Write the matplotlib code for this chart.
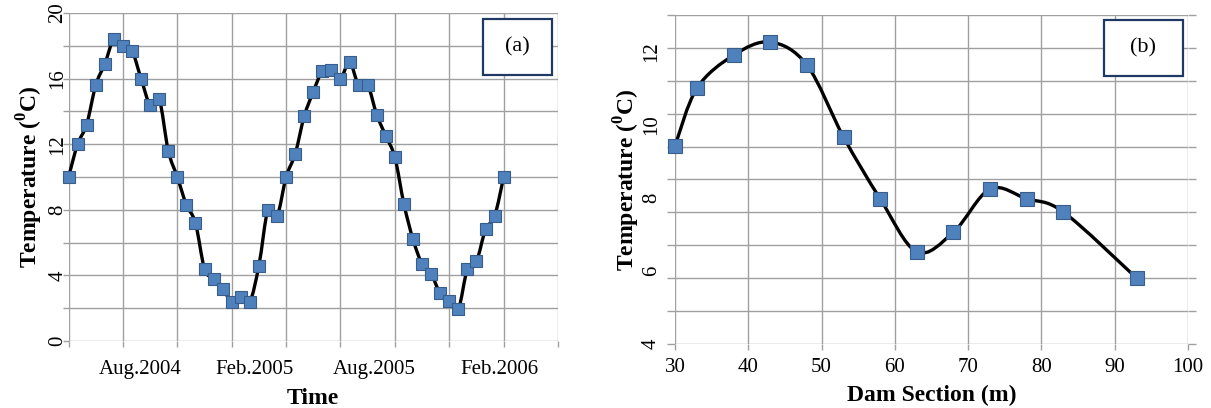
import matplotlib
matplotlib.use("Agg")
import matplotlib.pyplot as plt
import numpy as np
from matplotlib.path import Path
from matplotlib.patches import PathPatch, Rectangle

plt.rcParams["font.family"] = ["Liberation Serif", "DejaVu Serif"]
plt.rcParams["mathtext.fontset"] = "custom"
plt.rcParams["mathtext.rm"] = "Liberation Serif"
plt.rcParams["mathtext.bf"] = "Liberation Serif:bold"

# (a) temperature time series, one value per sample (about two weeks apart)
time_temp = [10.0, 12.0, 13.2, 15.6, 16.9, 18.4, 18.0, 17.7, 16.0, 14.4,
             14.75, 11.6, 10.0, 8.3, 7.2, 4.4, 3.8, 3.2, 2.4, 2.7,
             2.4, 4.6, 8.0, 7.6, 10.0, 11.4, 13.7, 15.2, 16.45, 16.5,
             16.0, 17.0, 15.6, 15.6, 13.8, 12.5, 11.2, 8.35, 6.2, 4.7,
             4.1, 2.9, 2.45, 1.95, 4.4, 4.85, 6.8, 7.6, 10.0]
time_labels = ["Aug.2004", "Feb.2005", "Aug.2005", "Feb.2006"]
time_label_pos = [7.9, 20.5, 33.7, 47.5]

# (b) temperature along the dam section
section_x = [30, 33, 38, 43, 48, 53, 58, 63, 68, 73, 78, 83, 93]
section_temp = [9.42, 11.0, 11.9, 12.26, 11.63, 9.66, 7.97, 6.52, 7.06,
                8.24, 7.97, 7.61, 5.8]

BLUE = "#4F81BD"
EDGE = "#385D8A"
GRID = "#A0A0A0"


def smooth_path(x, y):
    # Catmull-Rom style bezier, like Excel's smoothed line
    x = np.asarray(x, float)
    y = np.asarray(y, float)
    pts = np.column_stack([x, y])
    verts = [pts[0]]
    codes = [Path.MOVETO]
    n = len(pts)
    for i in range(n - 1):
        p0 = pts[i - 1] if i > 0 else pts[i]
        p1 = pts[i]
        p2 = pts[i + 1]
        p3 = pts[i + 2] if i + 2 < n else pts[i + 1]
        c1 = p1 + (p2 - p0) / 6.0
        c2 = p2 - (p3 - p1) / 6.0
        verts += [c1, c2, p2]
        codes += [Path.CURVE4] * 3
    return Path(verts, codes)


fig = plt.figure(figsize=(12.11, 4.08), dpi=100)

# ---- panel (a)
ax1 = fig.add_axes([0.0566, 0.1642, 0.4042, 0.804])
xs = np.arange(len(time_temp))
ax1.add_patch(PathPatch(smooth_path(xs, time_temp), fill=False,
                        edgecolor="black", lw=2.4, zorder=3, clip_on=False))
ax1.plot(xs, time_temp, linestyle="none", marker="s", markersize=8.5,
         markerfacecolor=BLUE, markeredgecolor=EDGE, markeredgewidth=0.8,
         zorder=4, clip_on=False)
ax1.set_xlim(0, 54)
ax1.set_ylim(0, 20)
ax1.set_xticks(np.arange(0, 55, 6), minor=True)
ax1.set_xticks(time_label_pos)
ax1.set_xticklabels(time_labels, fontsize=15)
ax1.tick_params(axis="x", which="major", length=0, pad=14)
ax1.tick_params(axis="x", which="minor", length=4, color=GRID, width=1)
ax1.set_yticks(np.arange(0, 21, 4))
ax1.set_yticks(np.arange(2, 20, 4), minor=True)
ax1.set_yticklabels([str(v) for v in range(0, 21, 4)], fontsize=15,
                    rotation=90, va="center")
ax1.tick_params(axis="y", which="both", length=4, color=GRID, width=1, pad=-3)
ax1.grid(True, which="minor", axis="x", color=GRID, lw=1)
ax1.grid(True, which="both", axis="y", color=GRID, lw=1)
for s in ax1.spines.values():
    s.set_visible(False)
ax1.set_axisbelow(True)
ax1.set_xlabel("Time", fontsize=17, fontweight="bold", labelpad=6)
ax1.set_ylabel(r"Temperature ($^{\mathbf{0}}$C)", fontsize=17,
               fontweight="bold", labelpad=2)
ax1.add_patch(Rectangle((0.847, 0.811), 0.141, 0.171, transform=ax1.transAxes,
                        facecolor="white", edgecolor="#1F3864", lw=1.6,
                        zorder=6))
ax1.text(0.9175, 0.896, "(a)", transform=ax1.transAxes, fontsize=16,
         ha="center", va="center", zorder=7)

# ---- panel (b)
ax2 = fig.add_axes([0.5574, 0.1569, 0.4236, 0.8064])
ax2.add_patch(PathPatch(smooth_path(section_x, section_temp), fill=False,
                        edgecolor="black", lw=2.4, zorder=3, clip_on=False))
ax2.plot(section_x, section_temp, linestyle="none", marker="s",
         markersize=10.5, markerfacecolor=BLUE, markeredgecolor=EDGE,
         markeredgewidth=0.8, zorder=4, clip_on=False)
ax2.set_xlim(30, 100)
ax2.set_ylim(4, 13)
ax2.set_xticks(np.arange(30, 101, 10))
ax2.tick_params(axis="x", labelsize=15, length=4, color=GRID, width=1, pad=6)
ax2.yaxis.remove_overlapping_locs = False
ax2.set_yticks(np.linspace(4, 13, 11), minor=True)
ax2.set_yticks([4, 6, 8, 10, 12])
ax2.set_yticklabels(["4", "6", "8", "10", "12"], fontsize=15, rotation=90,
                    va="center")
ax2.tick_params(axis="y", which="major", length=0, pad=10)
ax2.tick_params(axis="y", which="minor", length=6, color=GRID, width=1,
                right=True)
ax2.grid(True, which="major", axis="x", color=GRID, lw=1)
ax2.grid(True, which="minor", axis="y", color=GRID, lw=1)
for s in ax2.spines.values():
    s.set_visible(False)
ax2.set_axisbelow(True)
ax2.set_xlabel("Dam Section (m)", fontsize=17, fontweight="bold", labelpad=6)
ax2.set_ylabel(r"Temperature ($^{\mathbf{0}}$C)", fontsize=17,
               fontweight="bold", labelpad=0)
ax2.add_patch(Rectangle((0.836, 0.815), 0.154, 0.170, transform=ax2.transAxes,
                        facecolor="white", edgecolor="#1F3864", lw=1.6,
                        zorder=6))
ax2.text(0.913, 0.90, "(b)", transform=ax2.transAxes, fontsize=16,
         ha="center", va="center", zorder=7)

fig.savefig("out.png", dpi=100)
